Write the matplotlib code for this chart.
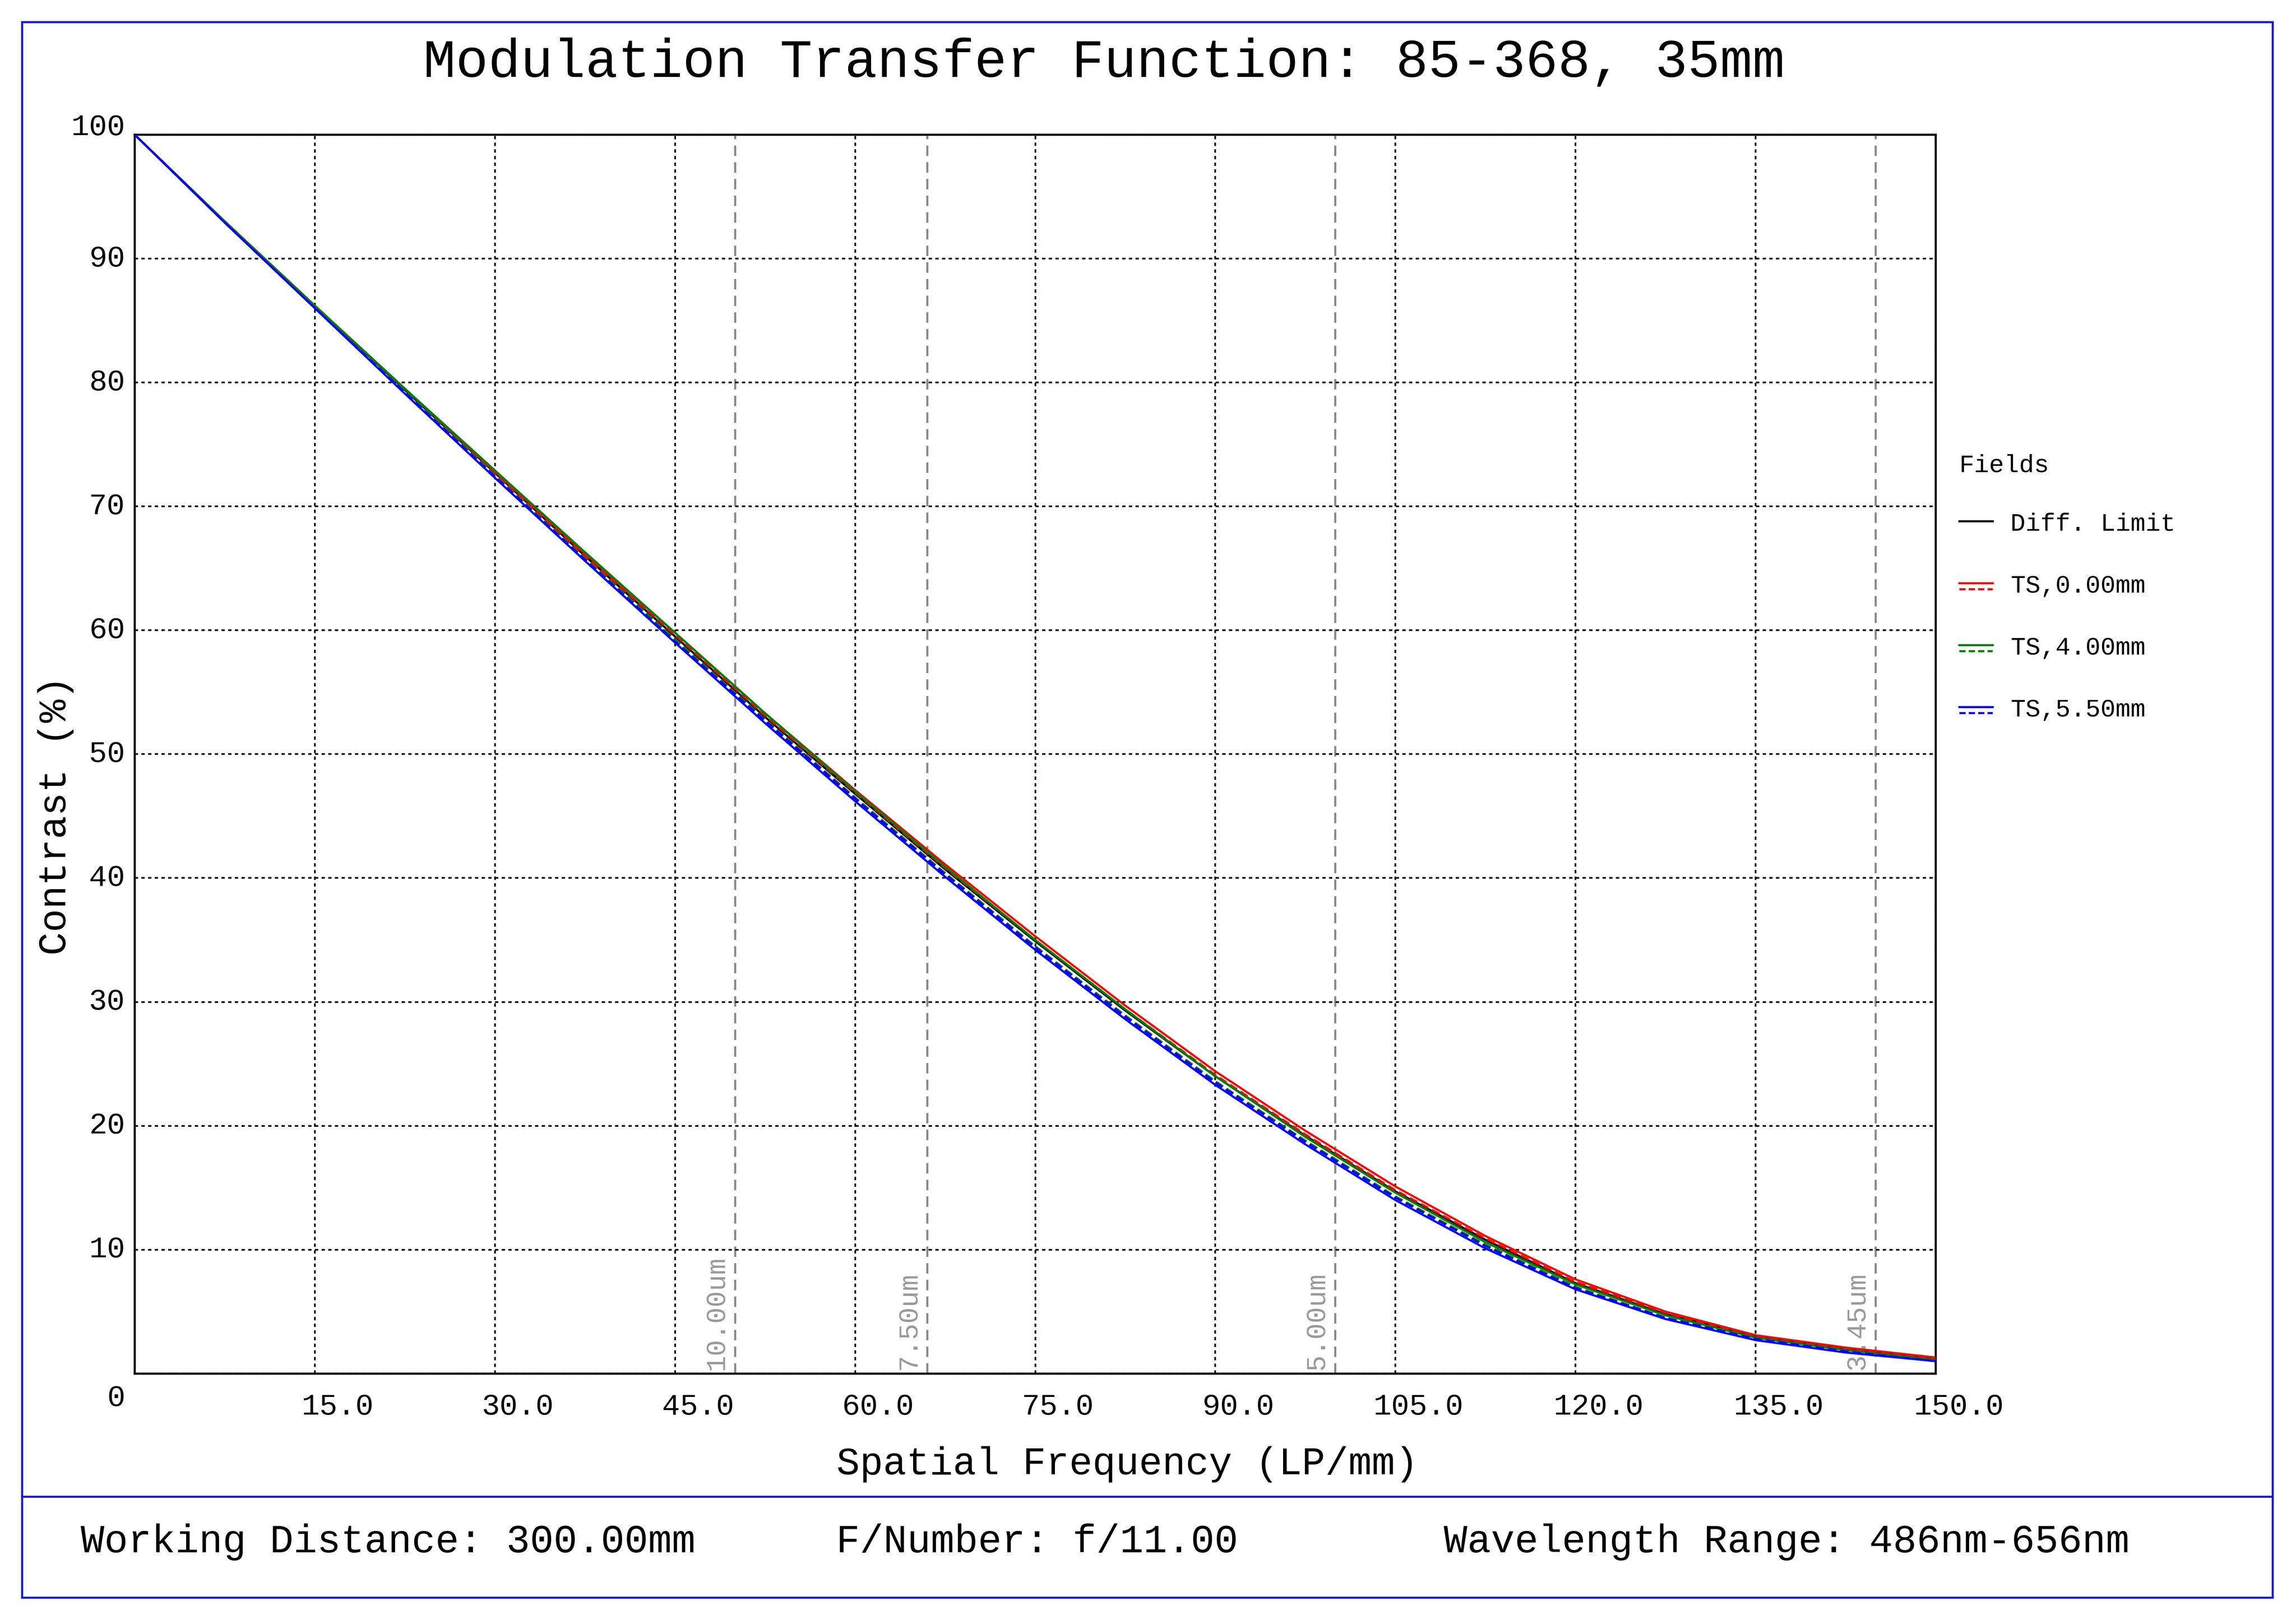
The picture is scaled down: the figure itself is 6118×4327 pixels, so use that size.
import matplotlib
matplotlib.use("Agg")
import matplotlib.pyplot as plt
from matplotlib.lines import Line2D
from matplotlib.patches import Rectangle

FONT = "Liberation Mono"

freq = [0, 7.5, 15, 22.5, 30, 37.5, 45, 52.5, 60, 67.5, 75, 82.5, 90, 97.5, 105, 112.5, 120, 127.5, 135, 142.5, 150]
diff_limit = [100, 93.0, 86.2, 79.4, 72.7, 66.0, 59.5, 53.0, 46.8, 40.7, 34.9, 29.3, 24.0, 19.2, 14.7, 10.8, 7.3, 4.8, 3.0, 2.0, 1.2]
ts0_t = [100, 93.0, 86.2, 79.5, 72.8, 66.2, 59.8, 53.3, 47.1, 41.1, 35.3, 29.7, 24.4, 19.6, 15.1, 11.1, 7.6, 5.0, 3.1, 2.1, 1.3]
ts0_s = [100, 93.0, 86.2, 79.4, 72.7, 66.0, 59.6, 53.1, 46.9, 40.8, 35.0, 29.4, 24.1, 19.3, 14.8, 10.9, 7.4, 4.9, 3.0, 2.0, 1.2]
ts4_t = [100, 93.0, 86.2, 79.5, 72.9, 66.3, 59.8, 53.3, 47.0, 40.9, 35.0, 29.4, 24.0, 19.1, 14.6, 10.6, 7.2, 4.7, 2.9, 1.9, 1.1]
ts4_s = [100, 93.0, 86.1, 79.3, 72.5, 65.8, 59.3, 52.8, 46.5, 40.4, 34.5, 28.9, 23.6, 18.8, 14.3, 10.4, 7.0, 4.5, 2.8, 1.8, 1.0]
ts55_t = [100, 92.9, 86.0, 79.1, 72.3, 65.6, 59.0, 52.5, 46.2, 40.1, 34.2, 28.6, 23.3, 18.5, 14.0, 10.1, 6.8, 4.4, 2.7, 1.7, 1.0]
ts55_s = [100, 92.9, 86.0, 79.2, 72.4, 65.7, 59.1, 52.7, 46.4, 40.3, 34.4, 28.8, 23.5, 18.7, 14.2, 10.3, 6.9, 4.5, 2.8, 1.8, 1.0]

pixel_lines = [50.0, 66.0, 100.0, 145.0]
pixel_labels = ["10.00um", "7.50um", "5.00um", "3.45um"]
xticks = [15, 30, 45, 60, 75, 90, 105, 120, 135, 150]
yticks = [0, 10, 20, 30, 40, 50, 60, 70, 80, 90, 100]

W, H = 1568, 1109
fig = plt.figure(figsize=(6118 / 400, 4327 / 400), dpi=400)
ax = fig.add_axes([92 / W, 1 - 938 / H, (1322 - 92) / W, (938 - 92) / H])

# outer frame and separator
fig.patches.append(Rectangle((15 / W, 1 - 1091 / H), (1552 - 15) / W, (1091 - 15) / H,
                             transform=fig.transFigure, fill=False, ec="#1a1acc", lw=1.0))
fig.lines.append(Line2D([15 / W, 1552 / W], [1 - 1022 / H] * 2, transform=fig.transFigure,
                        color="#1a1acc", lw=1.0))

for x, lab in zip(pixel_lines, pixel_labels):
    ax.axvline(x, color="#888888", ls=(0, (5, 3)), lw=1.0, zorder=1)
    ax.text(x - 0.5, 0.3, lab, rotation=90, ha="right", va="bottom", color="#999999",
            fontsize=13, family=FONT)

ax.plot(freq, diff_limit, color="black", lw=1.0, zorder=3)
ax.plot(freq, ts0_t, color="red", lw=1.0, zorder=3)
ax.plot(freq, ts0_s, color="red", lw=1.0, ls=(0, (4, 2)), zorder=3)
ax.plot(freq, ts4_t, color="green", lw=1.0, zorder=3)
ax.plot(freq, ts4_s, color="green", lw=1.0, ls=(0, (4, 2)), zorder=3)
ax.plot(freq, ts55_t, color="blue", lw=1.0, zorder=4)
ax.plot(freq, ts55_s, color="blue", lw=1.0, ls=(0, (4, 2)), zorder=4)

ax.set_xlim(0, 150)
ax.set_ylim(0, 100)
ax.set_xticks(xticks)
ax.set_yticks(yticks)
ax.grid(True, color="black", ls=(0, (2, 2)), lw=0.8)
ax.tick_params(length=0)
ax.set_xticklabels([])
ax.set_yticklabels([])
for t in xticks:
    ax.text(t + 1.9, -2.7, f"{t:.1f}", ha="center", va="center", fontsize=14.4, family=FONT)
for t in yticks:
    yy = t + (0.6 if t == 100 else (-2.0 if t == 0 else 0))
    ax.text(-0.8, yy, f"{t}", ha="right", va="center", fontsize=14.4, family=FONT)
for s in ax.spines.values():
    s.set_linewidth(1.0)

fig.text(770 / W, 1 - 1000 / H, "Spatial Frequency (LP/mm)", ha="center", va="center",
         fontsize=18.6, family=FONT)
fig.text(38 / W, 1 - 557 / H, "Contrast (%)", ha="center", va="center", rotation=90,
         fontsize=18.6, family=FONT)
fig.text(754 / W, 1 - 43 / H, "Modulation Transfer Function: 85-368, 35mm",
         ha="center", va="center", fontsize=25.9, family=FONT)

# legend
fig.text(1338 / W, 1 - 318 / H, "Fields", ha="left", va="center", fontsize=12, family=FONT)
leg = [("Diff. Limit", "black"), ("TS,0.00mm", "red"), ("TS,4.00mm", "green"), ("TS,5.50mm", "blue")]
for i, (lab, c) in enumerate(leg):
    y = 1 - (358 + 42.3 * i) / H
    fig.lines.append(Line2D([1338 / W, 1361 / W], [y + 2 / H] * 2, transform=fig.transFigure, color=c, lw=1.0))
    if i > 0:
        fig.lines.append(Line2D([1338 / W, 1361 / W], [y - 2 / H] * 2, transform=fig.transFigure,
                                color=c, lw=1.0, ls=(0, (3, 1.5))))
    fig.text(1373 / W, y, lab, ha="left", va="center", fontsize=12, family=FONT)

for x, s in [(55, "Working Distance: 300.00mm"), (571, "F/Number: f/11.00"),
             (986, "Wavelength Range: 486nm-656nm")]:
    fig.text(x / W, 1 - 1053 / H, s, ha="left", va="center", fontsize=18.9, family=FONT)

fig.savefig("out.png", dpi=400, facecolor="white")
